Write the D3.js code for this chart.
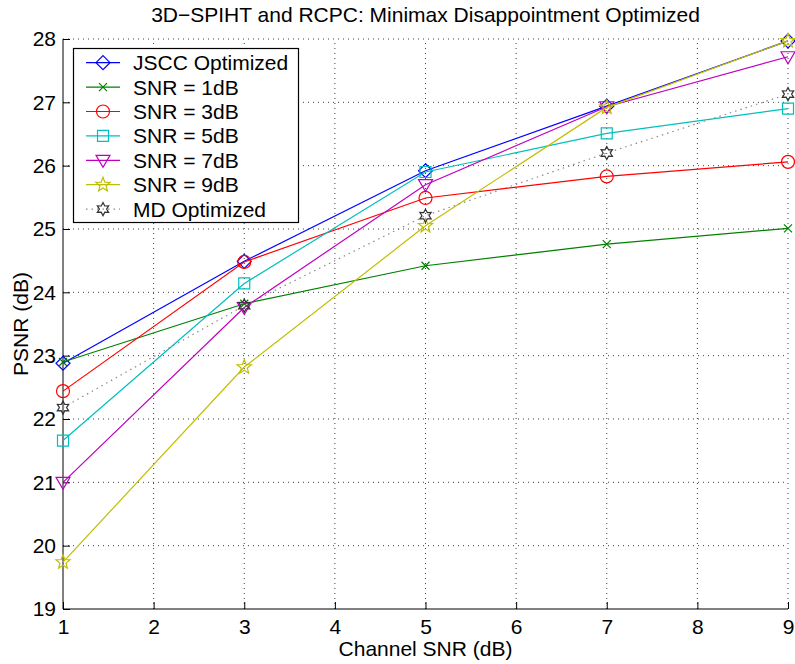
<!DOCTYPE html>
<html>
<head>
<meta charset="utf-8">
<script src="https://cdn.jsdelivr.net/npm/d3@7"></script>
<style>
  body { margin: 0; background: #fff; }
  svg { font-family: "Liberation Sans", Arial, sans-serif; }
</style>
</head>
<body>
<svg id="chart" width="795" height="664"></svg>
<script>
// channel SNR values on the x axis
const channelSnr = [1, 3, 5, 7, 9]
const xTicks = [1, 2, 3, 4, 5, 6, 7, 8, 9]
const yTicks = [19, 20, 21, 22, 23, 24, 25, 26, 27, 28]

// PSNR for each curve
const jsccOpt = [22.88, 24.49, 25.92, 26.94, 27.97]
const snr1dB = [22.90, 23.82, 24.42, 24.76, 25.01]
const snr3dB = [22.44, 24.48, 25.49, 25.83, 26.06]
const snr5dB = [21.66, 24.14, 25.90, 26.51, 26.90]
const snr7dB = [21.00, 23.76, 25.70, 26.93, 27.72]
const snr9dB = [19.74, 22.82, 25.05, 26.92, 27.97]
const mdOpt = [22.18, 23.79, 25.21, 26.20, 27.13]

const seriesNames = ['JSCC Optimized', 'SNR = 1dB', 'SNR = 3dB', 'SNR = 5dB', 'SNR = 7dB', 'SNR = 9dB', 'MD Optimized']
const seriesValues = [jsccOpt, snr1dB, snr3dB, snr5dB, snr7dB, snr9dB, mdOpt]
const seriesColors = ['#0000ff', '#008000', '#ff0000', '#00bfbf', '#bf00bf', '#bfbf00', '#8a8a8a']
const markerColors = ['#0000ff', '#008000', '#ff0000', '#00bfbf', '#bf00bf', '#bfbf00', '#333333']
const markerTypes = ['diamond', 'x', 'circle', 'square', 'triangle', 'star5', 'star6']

// builds a matlab-like marker path centred on 0,0
function markerPath(type) {
  if (type === 'diamond') return 'M0,-7L7,0L0,7L-7,0Z'
  if (type === 'x') return 'M-4,-4L4,4M-4,4L4,-4'
  if (type === 'circle') return 'M6.5,0A6.5,6.5 0 1,1 -6.5,0A6.5,6.5 0 1,1 6.5,0Z'
  if (type === 'square') return 'M-5.5,-5.5H5.5V5.5H-5.5Z'
  if (type === 'triangle') return 'M-7,-5H7L0,7Z'
  const n = type === 'star5' ? 5 : 6
  const ro = type === 'star5' ? 7.5 : 6.5
  const ri = type === 'star5' ? 3.2 : 3.6
  const pts = []
  for (let i = 0; i < 2 * n; i++) {
    const a = -Math.PI / 2 + i * Math.PI / n
    const r = i % 2 === 0 ? ro : ri
    pts.push([r * Math.cos(a), r * Math.sin(a)])
  }
  return 'M' + pts.map(p => p[0].toFixed(2) + ',' + p[1].toFixed(2)).join('L') + 'Z'
}

function drawChart() {
  const svg = d3.select('#chart')
  const left = 63, right = 788, top = 39, bottom = 609

  const x = d3.scaleLinear().domain([1, 9]).range([left, right])
  const y = d3.scaleLinear().domain([19, 28]).range([bottom, top])

  // dotted grid
  const grid = svg.append('g')
    .attr('stroke', '#000')
    .attr('stroke-width', 1)
    .attr('stroke-dasharray', '1,4')
    .attr('opacity', 0.75)
  grid.selectAll('.gx').data(xTicks.slice(1))
    .join('line')
    .attr('x1', d => x(d)).attr('x2', d => x(d))
    .attr('y1', bottom).attr('y2', top)
  grid.selectAll('.gy').data(yTicks.slice(1))
    .join('line')
    .attr('class', 'gy')
    .attr('x1', left).attr('x2', right)
    .attr('y1', d => y(d)).attr('y2', d => y(d))

  // axes, ticks pointing inward
  svg.append('g')
    .attr('transform', `translate(0,${bottom})`)
    .call(d3.axisBottom(x).tickValues(xTicks).tickSize(-7).tickPadding(10).tickFormat(d3.format('d')))
    .call(g => g.select('.domain').attr('d', `M${left},0H${right}`))
    .call(g => g.selectAll('text').attr('font-size', 21).attr('fill', '#000').attr('font-family', 'Liberation Sans, Arial, sans-serif'))

  svg.append('g')
    .attr('transform', `translate(${left},0)`)
    .call(d3.axisLeft(y).tickValues(yTicks).tickSize(-7).tickPadding(7).tickFormat(d3.format('d')))
    .call(g => g.select('.domain').attr('d', `M0,${bottom}V${top}`))
    .call(g => g.selectAll('text').attr('font-size', 21).attr('fill', '#000').attr('font-family', 'Liberation Sans, Arial, sans-serif'))

  // series lines and markers
  const line = d3.line().x((d, i) => x(channelSnr[i])).y(d => y(d))
  seriesValues.forEach((vals, k) => {
    const g = svg.append('g')
    g.append('path')
      .attr('d', line(vals))
      .attr('fill', 'none')
      .attr('stroke', seriesColors[k])
      .attr('stroke-width', 1.2)
      .attr('stroke-dasharray', k === 6 ? '1.5,4' : null)
    g.selectAll('path.m').data(vals)
      .join('path')
      .attr('class', 'm')
      .attr('transform', (d, i) => `translate(${x(channelSnr[i])},${y(d)})`)
      .attr('d', markerPath(markerTypes[k]))
      .attr('fill', 'none')
      .attr('stroke', markerColors[k])
      .attr('stroke-width', 1.2)
  })

  // title and axis labels
  svg.append('text')
    .attr('x', (left + right) / 2).attr('y', 22)
    .attr('text-anchor', 'middle').attr('font-size', 21)
    .text('3D\u2212SPIHT and RCPC: Minimax Disappointment Optimized')
  svg.append('text')
    .attr('x', (left + right) / 2).attr('y', 656)
    .attr('text-anchor', 'middle').attr('font-size', 21)
    .text('Channel SNR (dB)')
  svg.append('text')
    .attr('transform', `translate(28,${(top + bottom) / 2}) rotate(-90)`)
    .attr('text-anchor', 'middle').attr('font-size', 21)
    .text('PSNR (dB)')

  // legend
  const lg = svg.append('g')
  lg.append('rect')
    .attr('x', 73.5).attr('y', 48.5).attr('width', 225).attr('height', 174)
    .attr('fill', '#fff').attr('stroke', '#000').attr('stroke-width', 1.2)
  seriesNames.forEach((name, k) => {
    const ry = 62.7 + k * 24.4
    lg.append('line')
      .attr('x1', 86).attr('x2', 120).attr('y1', ry).attr('y2', ry)
      .attr('stroke', seriesColors[k]).attr('stroke-width', 1.2)
      .attr('stroke-dasharray', k === 6 ? '1.5,4' : null)
    lg.append('path')
      .attr('transform', `translate(103,${ry})`)
      .attr('d', markerPath(markerTypes[k]))
      .attr('fill', 'none').attr('stroke', markerColors[k]).attr('stroke-width', 1.2)
    lg.append('text')
      .attr('x', 133).attr('y', ry + 7.5)
      .attr('font-size', 21)
      .text(name)
  })
}

document.addEventListener('DOMContentLoaded', drawChart, false)
</script>
</body>
</html>
